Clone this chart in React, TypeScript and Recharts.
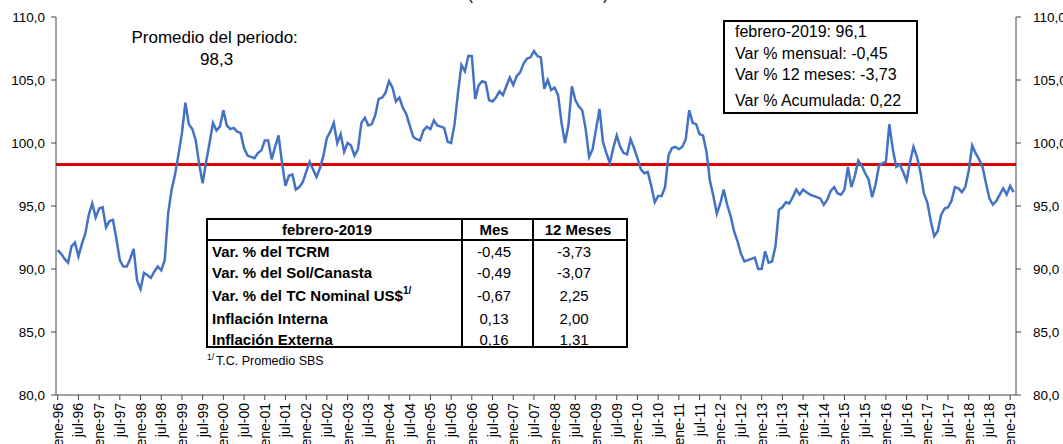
import React from "react";
import { LineChart, Line, XAxis, YAxis, ReferenceLine } from "recharts";

const FONT = '"Liberation Sans", Arial, sans-serif';

// TCRM index, monthly, ene-96 .. feb-19
const y1996 = [91.5, 91.2, 90.8, 90.5, 91.8, 92.1, 91.0, 92.0, 92.8, 94.3, 95.2, 94.1];
const y1997 = [94.8, 94.9, 93.3, 93.8, 93.9, 92.4, 90.7, 90.2, 90.2, 90.8, 91.6, 89.1];
const y1998 = [88.4, 89.7, 89.5, 89.3, 89.8, 90.2, 89.9, 90.7, 94.4, 96.3, 97.5, 99.1];
const y1999 = [100.8, 103.2, 101.5, 101.1, 100.2, 98.3, 96.8, 98.5, 100.0, 101.6, 101.0, 101.3];
const y2000 = [102.6, 101.4, 101.1, 101.2, 100.9, 100.8, 99.6, 99.0, 98.9, 98.8, 99.2, 99.4];
const y2001 = [100.2, 100.2, 98.7, 99.7, 100.6, 98.4, 96.6, 97.4, 97.5, 96.3, 96.5, 96.9];
const y2002 = [97.7, 98.5, 97.9, 97.3, 98.0, 99.0, 100.4, 100.9, 101.6, 100.0, 100.7, 99.3];
const y2003 = [100.0, 99.8, 99.0, 99.5, 101.6, 102.0, 101.4, 101.5, 102.2, 103.5, 103.6, 104.0];
const y2004 = [104.9, 104.4, 103.3, 103.6, 102.8, 102.3, 101.4, 100.5, 100.3, 100.2, 101.0, 101.3];
const y2005 = [101.1, 101.8, 101.4, 101.3, 101.2, 100.1, 100.0, 101.5, 104.0, 106.2, 105.7, 106.9];
const y2006 = [106.9, 103.5, 104.6, 104.9, 104.8, 103.4, 103.3, 103.6, 104.1, 103.8, 104.5, 105.2];
const y2007 = [104.6, 105.3, 105.6, 106.3, 106.7, 106.8, 107.3, 106.9, 106.8, 104.3, 105.0, 104.2];
const y2008 = [104.4, 103.8, 101.6, 100.0, 101.4, 104.5, 103.4, 102.9, 102.6, 101.1, 98.9, 99.5];
const y2009 = [101.1, 102.7, 100.1, 99.2, 98.4, 99.6, 100.6, 99.7, 99.2, 99.1, 100.3, 99.6];
const y2010 = [98.8, 97.9, 97.6, 97.7, 96.6, 95.3, 95.8, 95.8, 96.5, 99.0, 99.6, 99.7];
const y2011 = [99.5, 99.7, 100.3, 102.6, 101.6, 101.5, 100.7, 100.6, 99.3, 97.0, 95.8, 94.4];
const y2012 = [95.2, 96.3, 95.1, 94.2, 93.0, 92.2, 91.2, 90.6, 90.7, 90.8, 90.9, 90.0];
const y2013 = [90.0, 91.4, 90.5, 90.6, 91.8, 94.7, 94.9, 95.3, 95.2, 95.7, 96.3, 95.9];
const y2014 = [96.3, 96.1, 95.9, 95.8, 95.7, 95.6, 95.1, 95.5, 96.2, 96.5, 96.0, 95.9];
const y2015 = [96.3, 98.1, 96.5, 97.4, 98.6, 98.2, 97.6, 97.1, 95.7, 96.7, 98.2, 98.4];
const y2016 = [98.5, 101.5, 99.5, 98.1, 98.3, 97.7, 97.0, 98.5, 99.7, 98.9, 97.7, 96.0];
const y2017 = [95.3, 93.8, 92.6, 93.0, 94.3, 94.8, 94.9, 95.4, 96.5, 96.4, 96.1, 96.5];
const y2018 = [97.8, 99.8, 99.2, 98.7, 98.1, 96.8, 95.6, 95.1, 95.4, 95.9, 96.4, 95.9];
const y2019 = [96.6, 96.1];

const tcrm = [
  ...y1996, ...y1997, ...y1998, ...y1999, ...y2000, ...y2001, ...y2002, ...y2003,
  ...y2004, ...y2005, ...y2006, ...y2007, ...y2008, ...y2009, ...y2010, ...y2011,
  ...y2012, ...y2013, ...y2014, ...y2015, ...y2016, ...y2017, ...y2018, ...y2019,
];

const promedio = 98.3;

const tickLabels = [
  "ene-96", "jul-96", "ene-97", "jul-97", "ene-98", "jul-98", "ene-99", "jul-99",
  "ene-00", "jul-00", "ene-01", "jul-01", "ene-02", "jul-02", "ene-03", "jul-03",
  "ene-04", "jul-04", "ene-05", "jul-05", "ene-06", "jul-06", "ene-07", "jul-07",
  "ene-08", "jul-08", "ene-09", "jul-09", "ene-10", "jul-10", "ene-11", "jul-11",
  "ene-12", "jul-12", "ene-13", "jul-13", "ene-14", "jul-14", "ene-15", "jul-15",
  "ene-16", "jul-16", "ene-17", "jul-17", "ene-18", "jul-18", "ene-19",
];
const yTicks = [80, 85, 90, 95, 100, 105, 110];

const tableRows = [
  { label: "Var. % del TCRM", mes: "-0,45", anual: "-3,73" },
  { label: "Var. % del Sol/Canasta", mes: "-0,49", anual: "-3,07" },
  { label: "Var. % del TC Nominal US$", mes: "-0,67", anual: "2,25", sup: "1/" },
  { label: "Inflación Interna", mes: "0,13", anual: "2,00" },
  { label: "Inflación Externa", mes: "0,16", anual: "1,31" },
];
const rowBaselines = [256.5, 278, 300.5, 324, 345];

const boxLines = [
  "febrero-2019: 96,1",
  "Var % mensual: -0,45",
  "Var % 12 meses: -3,73",
  "Var % Acumulada: 0,22",
];
const boxBaselines = [37.7, 60, 81, 106.5];

const data = tcrm.map((v, i) => ({ i, v }));
const tickIdx = tickLabels.map((_, k) => k * 6);
const fmt = (v: number) => v.toFixed(1).replace(".", ",");

const XTick = (props: any) => {
  const { x, y, payload } = props;
  return (
    <g transform={`translate(${x},${y + 1})`}>
      <text transform="rotate(-90)" textAnchor="end" dy={5} fontSize={14} fill="#000" fontFamily={FONT}>
        {tickLabels[Math.round(payload.value / 6)]}
      </text>
    </g>
  );
};

// text placed by baseline (line-height = font size)
const T = ({ x, base, size, bold, center, children }: any) => (
  <div
    style={{
      position: "absolute",
      left: center ? x - 150 : x,
      width: center ? 300 : undefined,
      textAlign: center ? "center" : "left",
      top: base - size * 0.8465,
      fontSize: size,
      lineHeight: `${size}px`,
      fontWeight: bold ? "bold" : "normal",
      whiteSpace: "nowrap",
      color: "#000",
    }}
  >
    {children}
  </div>
);

const line = (l: number, t: number, w: number, h: number) => (
  <div style={{ position: "absolute", left: l, top: t, width: w, height: h, background: "#000" }} />
);

export default function App() {
  return (
    <div
      style={{
        position: "absolute",
        left: 0,
        top: 0,
        width: 1063,
        height: 444,
        background: "#fff",
        overflow: "hidden",
        fontFamily: FONT,
      }}
    >
      <LineChart width={1063} height={444} data={data} margin={{ top: 17, right: 0, bottom: 0, left: 0 }}>
        <XAxis
          type="number"
          dataKey="i"
          domain={[-0.5, 277.7]}
          ticks={tickIdx}
          interval={0}
          tick={<XTick />}
          tickSize={5}
          height={49}
          stroke="#444"
          allowDataOverflow
        />
        <YAxis
          yAxisId="l"
          domain={[80, 110]}
          ticks={yTicks}
          tickFormatter={fmt}
          width={56}
          tickSize={5}
          tickMargin={6}
          stroke="#444"
          tick={{ fill: "#000", fontSize: 13.5, fontFamily: FONT }}
          allowDataOverflow
        />
        <YAxis
          yAxisId="r"
          orientation="right"
          domain={[80, 110]}
          ticks={yTicks}
          tickFormatter={fmt}
          width={47}
          tickSize={5}
          tickMargin={12}
          stroke="#444"
          tick={{ fill: "#000", fontSize: 13.5, fontFamily: FONT }}
          allowDataOverflow
        />
        <ReferenceLine yAxisId="l" y={promedio} stroke="#E00000" strokeWidth={3} />
        <Line
          yAxisId="l"
          type="linear"
          dataKey="v"
          stroke="#4472C4"
          strokeWidth={2.5}
          dot={false}
          isAnimationActive={false}
        />
      </LineChart>

      {/* title, mostly above the picture */}
      <T x={538} base={-0.5} size={16.5} center>
        (Base: 2009 = 100)
      </T>

      <T x={131.5} base={43.3} size={17}>
        Promedio del periodo:
      </T>
      <T x={200} base={65} size={17}>
        {fmt(promedio)}
      </T>

      {/* info box */}
      <div
        style={{
          position: "absolute",
          left: 723,
          top: 20,
          width: 195,
          height: 94,
          border: "2px solid #000",
          boxSizing: "border-box",
          background: "#fff",
        }}
      />
      {boxLines.map((s, k) => (
        <T key={s} x={735} base={boxBaselines[k]} size={16}>
          {s}
        </T>
      ))}

      {/* summary table */}
      <div style={{ position: "absolute", left: 206, top: 218, width: 422, height: 130, background: "#fff" }} />
      {line(206, 218, 422, 2)}
      {line(206, 346, 422, 2)}
      {line(206, 218, 2, 130)}
      {line(626, 218, 2, 130)}
      {line(206, 239, 422, 2)}
      {line(461, 218, 2, 130)}
      {line(532, 218, 2, 130)}
      <T x={327} base={235} size={15} bold center>
        febrero-2019
      </T>
      <T x={494} base={235} size={15} bold center>
        Mes
      </T>
      <T x={578} base={235} size={15} bold center>
        12 Meses
      </T>
      {tableRows.map((r, k) => (
        <React.Fragment key={r.label}>
          <T x={212} base={rowBaselines[k]} size={15} bold>
            {r.label}
            {r.sup ? (
              <span style={{ fontSize: 10, position: "relative", top: -7, verticalAlign: "baseline" }}>{r.sup}</span>
            ) : null}
          </T>
          <T x={494} base={rowBaselines[k]} size={15} center>
            {r.mes}
          </T>
          <T x={574} base={rowBaselines[k]} size={15} center>
            {r.anual}
          </T>
        </React.Fragment>
      ))}
      <T x={207} base={360} size={8.5}>
        1/
      </T>
      <T x={216} base={366} size={12.5}>
        T.C. Promedio SBS
      </T>
    </div>
  );
}
